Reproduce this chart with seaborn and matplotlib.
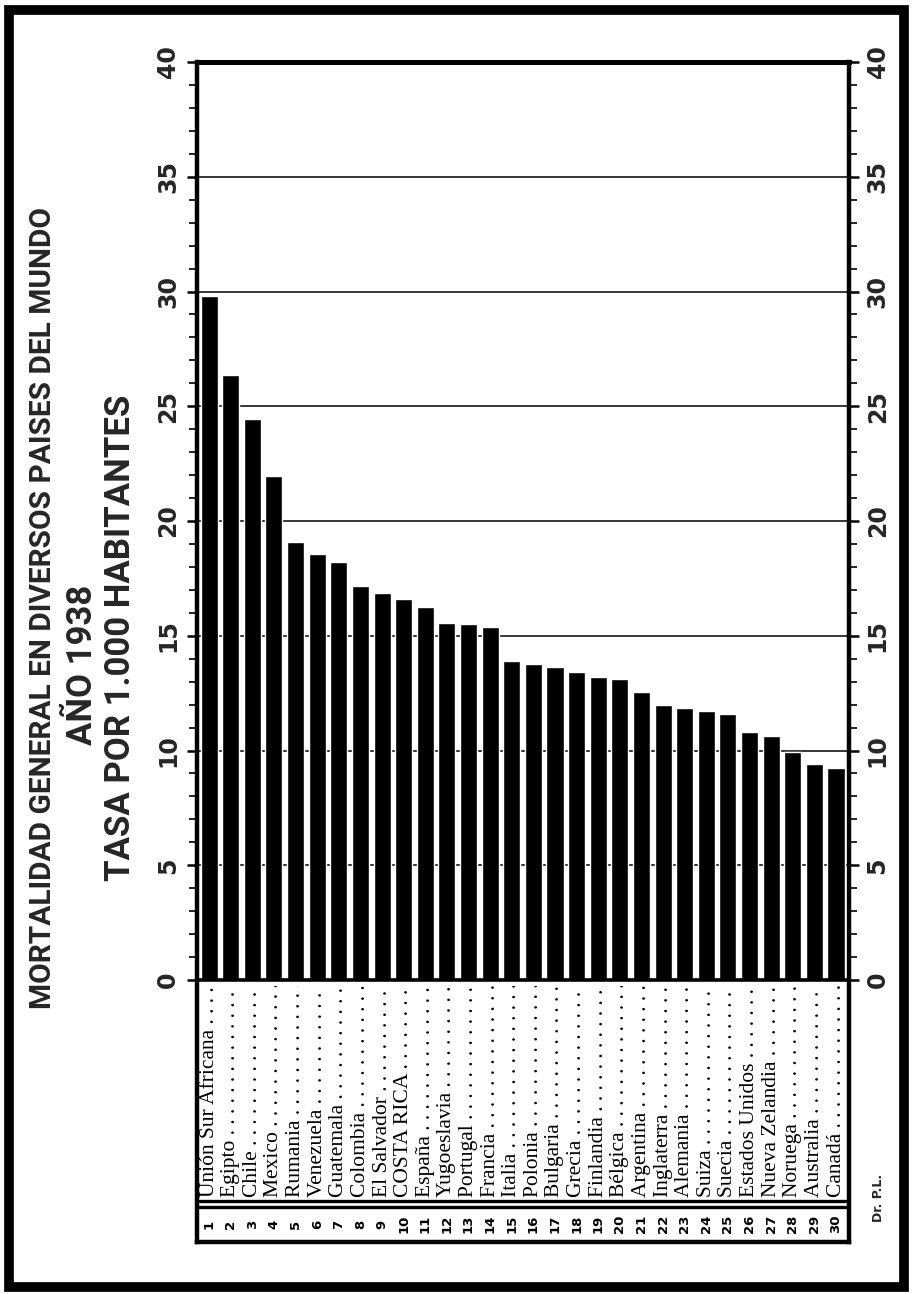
import matplotlib
matplotlib.use("Agg")
import matplotlib.pyplot as plt
import seaborn as sns
import pandas as pd
from matplotlib.patches import Rectangle
from matplotlib.ticker import FixedLocator

# ---------------- data ----------------
countries = ["Unión Sur Africana", "Egipto", "Chile", "Mexico", "Rumania",
             "Venezuela", "Guatemala", "Colombia", "El Salvador", "COSTA RICA",
             "España", "Yugoeslavia", "Portugal", "Francia", "Italia",
             "Polonia", "Bulgaria", "Grecia", "Finlandia", "Bélgica",
             "Argentina", "Inglaterra", "Alemania", "Suiza", "Suecia",
             "Estados Unidos", "Nueva Zelandia", "Noruega", "Australia", "Canadá"]
rates = [29.8, 26.35, 24.45, 21.95, 19.1, 18.55, 18.2, 17.15, 16.85, 16.6,
         16.25, 15.55, 15.5, 15.4, 13.9, 13.75, 13.65, 13.4, 13.2, 13.1,
         12.55, 12.0, 11.85, 11.7, 11.6, 10.8, 10.65, 9.95, 9.4, 9.25]
ranks = [str(i) for i in range(1, 31)]
major_ticks = [0, 5, 10, 15, 20, 25, 30, 35, 40]
minor_ticks = list(range(0, 41))
title_lines = ["MORTALIDAD GENERAL EN DIVERSOS PAISES DEL MUNDO",
               "AÑO 1938",
               "TASA POR 1.000 HABITANTES"]
author = "Dr. P.L."

df = pd.DataFrame({"pais": countries, "tasa": rates})

# ---------------- figure ----------------
sns.set_style("white")
plt.rcParams["font.family"] = ["DejaVu Sans"]

W, H = 915, 1294
fig = plt.figure(figsize=(W / 100, H / 100), dpi=100)

def fx(px):
    return px / W

def fy(py):
    return 1 - py / H

ax_left, ax_right, ax_top, ax_bot = 197, 849, 62, 1242
zero_px = 980
ppu = (zero_px - ax_top) / 40.0
ymin = -(ax_bot - zero_px) / ppu

ax = fig.add_axes([fx(ax_left), fy(ax_bot), fx(ax_right - ax_left), (ax_bot - ax_top) / H])

sns.barplot(data=df, x="pais", y="tasa", color="black", saturation=1,
            width=0.79, ax=ax, zorder=3)

ax.set_ylim(ymin, 40)
ax.set_xlim(-0.56, 29.6)
ax.set_xlabel("")
ax.set_ylabel("")
ax.set_xticks([])

# y ticks
ax.yaxis.set_major_locator(FixedLocator(major_ticks))
ax.yaxis.set_minor_locator(FixedLocator(minor_ticks))
ax.tick_params(axis="y", which="both", left=True, right=True,
               labelleft=True, labelright=True, direction="out", color="black")
ax.tick_params(axis="y", which="major", length=7, width=1.8, pad=5,
               labelsize=17)
ax.tick_params(axis="y", which="minor", length=5.5, width=1.2)
for t in ax.yaxis.get_major_ticks():
    for lab in (t.label1, t.label2):
        lab.set_rotation(90)
        lab.set_va("center")
        lab.set_fontweight("bold")

ax.yaxis.grid(True, which="major", color="black", lw=1.1, zorder=1)
ax.xaxis.grid(False)

for side in ("left", "right", "top", "bottom"):
    ax.spines[side].set_visible(True)
    ax.spines[side].set_color("black")
ax.spines["left"].set_linewidth(3.2)
ax.spines["right"].set_linewidth(3.2)
ax.spines["top"].set_linewidth(3.6)
ax.spines["bottom"].set_linewidth(3.2)

# label box lines (zero line + double line above rank strip)
ax.axhline(0, color="black", lw=2.6, zorder=4)
ax.axhline(-(1200.5 - zero_px) / ppu, color="black", lw=2.4, zorder=4)
ax.axhline(-(1207 - zero_px) / ppu, color="black", lw=2.4, zorder=4)

# country labels with dotted leaders, clipped to the label box
y_text = -(1197 - zero_px) / ppu
clip = Rectangle((-0.6, -(1199 - zero_px) / ppu), 31, (1199 - zero_px - 6) / ppu,
                 transform=ax.transData)
for i, name in enumerate(countries):
    txt = ax.text(i, y_text, name + " ." * 30, rotation=90, ha="center",
                  va="bottom", fontsize=15.5, family=["Liberation Serif", "DejaVu Serif"],
                  color="black", zorder=5)
    txt.set_clip_on(True)
    txt.set_clip_path(clip)

# rank numbers
y_rank = -(1224 - zero_px) / ppu
for i, r in enumerate(ranks):
    ax.text(i, y_rank, r, rotation=90, ha="center", va="center", fontsize=9.5,
            fontweight="bold", color="black", zorder=5)

# title (rotated)
title_fam = ["Roboto", "DejaVu Sans"]
fig.text(fx(43), fy(608), title_lines[0], rotation=90, ha="center", va="center",
         fontsize=21.5, family=title_fam, fontweight="bold")
fig.text(fx(83), fy(665), title_lines[1], rotation=90, ha="center", va="center",
         fontsize=25, family=title_fam, fontweight="bold")
fig.text(fx(121), fy(638), title_lines[2], rotation=90, ha="center", va="center",
         fontsize=25, family=title_fam, fontweight="bold")

fig.text(fx(878), fy(1198), author, rotation=90, ha="center", va="center",
         fontsize=9, fontweight="bold")

# outer frame
fig.patches.append(Rectangle((fx(8.5), fy(1287)), fx(904 - 8.5), (1287 - 10) / H,
                             transform=fig.transFigure, fill=False, lw=7,
                             edgecolor="black"))

fig.savefig("out.png", dpi=100, facecolor="white")
